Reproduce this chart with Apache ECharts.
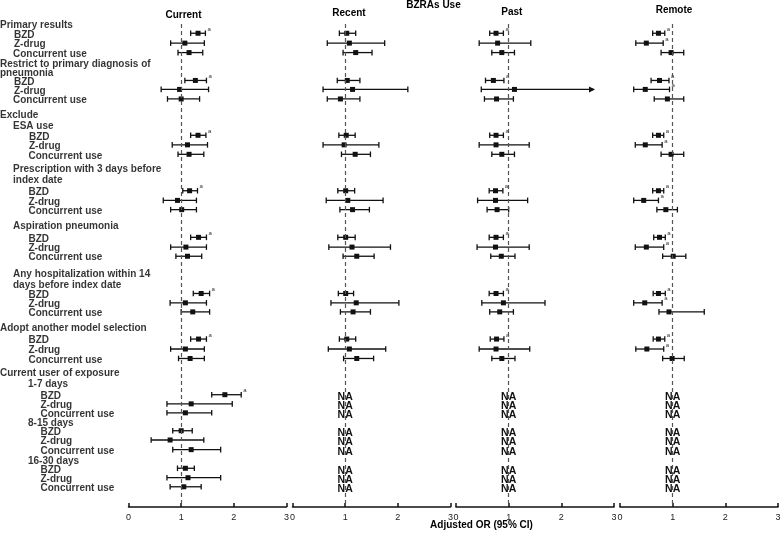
<!DOCTYPE html>
<html><head><meta charset="utf-8">
<script src="https://cdn.jsdelivr.net/npm/echarts@6/dist/echarts.min.js"></script>
<style>html,body{margin:0;padding:0;background:#fff}#c{width:781px;height:541px}</style>
</head><body><div id="c"></div>
<script>
// ---------- row labels (top to bottom) ----------
const rowLabels = [
  'Primary results','BZD','Z-drug','Concurrent use',
  'Restrict to primary diagnosis of','pneumonia','BZD','Z-drug','Concurrent use',
  'Exclude','ESA use','BZD','Z-drug','Concurrent use',
  'Prescription with 3 days before','index date','BZD','Z-drug','Concurrent use',
  'Aspiration pneumonia','BZD','Z-drug','Concurrent use',
  'Any hospitalization within 14','days before index date','BZD','Z-drug','Concurrent use',
  'Adopt another model selection','BZD','Z-drug','Concurrent use',
  'Current user of exposure','1-7 days','BZD','Z-drug','Concurrent use',
  '8-15 days','BZD','Z-drug','Concurrent use',
  '16-30 days','BZD','Z-drug','Concurrent use'
];
const dataRowNames = ['BZD','Z-drug','Concurrent use'];
const panels = ['Current','Recent','Past','Remote'];
const xTicks = [0,1,2,3];

// ---------- values: adjusted OR, lower / upper 95% CI (30 data rows) ----------
const currentOR = [1.32,1.07,1.15, 1.27,0.97,1.00, 1.32,1.12,1.15, 1.16,0.93,1.01, 1.33,1.09,1.12, 1.38,1.08,1.22, 1.33,1.08,1.17, 1.83,1.19,1.08, 1.00,0.79,1.19, 1.08,1.13,1.05];
const currentLo = [1.18,0.80,0.94, 1.07,0.62,0.74, 1.18,0.83,0.94, 1.03,0.66,0.80, 1.18,0.80,0.90, 1.23,0.79,1.00, 1.18,0.80,0.95, 1.58,0.73,0.73, 0.84,0.43,0.84, 0.93,0.73,0.79];
const currentHi = [1.46,1.44,1.41, 1.48,1.52,1.35, 1.47,1.50,1.43, 1.31,1.29,1.29, 1.48,1.48,1.39, 1.54,1.48,1.54, 1.48,1.44,1.44, 2.14,1.97,1.58, 1.21,1.43,1.75, 1.25,1.75,1.38];
const currentSig = [0,3,6,9,12,15,18,21];

const NAs = [null,null,null,null,null,null,null,null,null];
const recentOR = [1.03,1.08,1.20, 1.04,1.14,0.91, 1.02,0.98,1.19, 1.01,1.05,1.14, 1.01,1.13,1.22, 1.01,1.21,1.15, 1.03,1.08,1.22].concat(NAs);
const recentLo = [0.89,0.66,0.96, 0.85,0.58,0.66, 0.88,0.58,0.93, 0.86,0.64,0.90, 0.86,0.69,0.96, 0.87,0.73,0.91, 0.89,0.68,0.97].concat(NAs);
const recentHi = [1.20,1.75,1.51, 1.28,2.19,1.28, 1.19,1.64,1.48, 1.18,1.72,1.46, 1.19,1.86,1.55, 1.16,2.02,1.48, 1.20,1.77,1.54].concat(NAs);
const recentSig = [];

const pastOR = [0.76,0.79,0.87, 0.71,1.11,0.77, 0.76,0.76,0.87, 0.75,0.75,0.78, 0.76,0.75,0.86, 0.76,0.90,0.83, 0.77,0.76,0.87].concat(NAs);
const pastLo = [0.64,0.44,0.68, 0.56,0.48,0.54, 0.64,0.44,0.68, 0.63,0.41,0.59, 0.63,0.40,0.66, 0.63,0.49,0.64, 0.65,0.44,0.68].concat(NAs);
const pastHi = [0.90,1.42,1.11, 0.91,2.62,1.09, 0.90,1.39,1.11, 0.89,1.36,1.00, 0.90,1.39,1.12, 0.90,1.69,1.09, 0.91,1.40,1.12].concat(NAs);
const pastSig = [0,3,6,9,12,15,18];
const pastArrow = [4];

const remoteOR = [0.73,0.50,0.97, 0.75,0.48,0.90, 0.73,0.48,0.97, 0.73,0.45,0.87, 0.75,0.50,1.01, 0.73,0.47,0.93, 0.73,0.51,0.99].concat(NAs);
const remoteLo = [0.62,0.30,0.78, 0.59,0.26,0.65, 0.62,0.29,0.78, 0.62,0.26,0.70, 0.64,0.29,0.81, 0.63,0.26,0.74, 0.63,0.30,0.81].concat(NAs);
const remoteHi = [0.85,0.82,1.21, 0.93,0.94,1.21, 0.83,0.80,1.21, 0.83,0.73,1.09, 0.86,0.83,1.25, 0.86,0.80,1.60, 0.85,0.83,1.22].concat(NAs);
const remoteSig = [0,1,3,4,6,7,9,10,12,13,15,16,18,19];

// ---------- layout (row spacing in line units, label indents in px) ----------
const rowGap = [0,0.92,0.98,0.94,0.99,0.92,0.86,0.89,0.95,1.49,1.09,1.03,0.95,0.94,1.34,1.09,1.19,0.96,0.92,1.46,1.29,0.97,0.91,1.66,1.05,0.99,0.93,0.90,1.48,1.22,0.99,0.94,1.31,1.15,1.14,0.91,0.89,0.86,0.92,0.92,0.96,0.96,0.89,0.94,0.90];
const rowIndent = [0,14,14,13, 0,0,14,14,13, 0,13,29,29,28.5, 13,13,28.5,28.5,28.5, 13,28.5,28.5,28.5, 13,13,28.5,28.5,28.5, 0,28.5,28.5,28.5, 0,28,40.5,40.5,40.5, 28,40.5,40.5,40.5, 28,40.5,40.5,40.5];

const rowPos = [];
rowGap.reduce((acc, g, i) => { rowPos[i] = acc + g; return acc + g; }, 0);
const dataRowIdx = rowLabels.map((l, i) => dataRowNames.includes(l) ? i : -1).filter(i => i >= 0);

const panelData = [
  {or: currentOR, lo: currentLo, hi: currentHi, sig: currentSig, arrow: []},
  {or: recentOR, lo: recentLo, hi: recentHi, sig: recentSig, arrow: []},
  {or: pastOR, lo: pastLo, hi: pastHi, sig: pastSig, arrow: pastArrow},
  {or: remoteOR, lo: remoteLo, hi: remoteHi, sig: remoteSig, arrow: []}
];

const FONT = "'Liberation Sans', Arial, sans-serif";
const Y_MIN = 0, Y_MAX = 48;
const GRID_TOP = 24, GRID_H = 483;
const panelLeft = [128.5, 292.5, 456, 620];
const panelW = 158;

const grids = [{left: 0, top: GRID_TOP, width: 128, height: GRID_H, outerBoundsMode: 'none'}];
const xAxes = [{gridIndex: 0, type: 'value', min: 0, max: 1, show: false}];
const yAxes = [{gridIndex: 0, type: 'value', min: Y_MIN, max: Y_MAX, inverse: true, show: false}];
const series = [];

series.push({
  type: 'scatter', xAxisIndex: 0, yAxisIndex: 0, symbolSize: 0, silent: true,
  data: rowLabels.map((l, i) => ({
    value: [0, rowPos[i]], name: l,
    label: {offset: [rowIndent[i], 1.5]}
  })),
  label: {show: true, position: 'right', distance: 0, formatter: p => p.name,
    fontFamily: FONT, fontWeight: 'bold', fontSize: 10, color: '#000'}
});

function renderForest(params, api) {
  const lo = api.value(0), hi = api.value(1), or = api.value(2), y = api.value(3);
  const sig = api.value(4), arrow = api.value(5);
  const pL = api.coord([lo, y]), pH = api.coord([hi, y]), pO = api.coord([or, y]);
  const cap = 2.8;
  const st = {stroke: '#111', lineWidth: 1.3};
  const ch = [
    {type: 'line', shape: {x1: pL[0], y1: pL[1], x2: pH[0], y2: pH[1]}, style: st},
    {type: 'line', shape: {x1: pL[0], y1: pL[1] - cap, x2: pL[0], y2: pL[1] + cap}, style: st}
  ];
  if (arrow) {
    ch.push({type: 'polygon', shape: {points: [[pH[0] + 1, pH[1]], [pH[0] - 5, pH[1] - 3], [pH[0] - 5, pH[1] + 3]]}, style: {fill: '#111'}});
  } else {
    ch.push({type: 'line', shape: {x1: pH[0], y1: pH[1] - cap, x2: pH[0], y2: pH[1] + cap}, style: st});
  }
  ch.push({type: 'rect', shape: {x: pO[0] - 2.5, y: pO[1] - 2.5, width: 5, height: 5}, style: {fill: '#111'}});
  if (sig) {
    ch.push({type: 'text', x: pH[0] + 2, y: pH[1] - 4, style: {text: 'a', fontSize: 6, fontFamily: FONT, fill: '#333', align: 'left', verticalAlign: 'middle'}});
  }
  return {type: 'group', children: ch};
}

function renderNA(params, api) {
  const p = api.coord([api.value(0), api.value(1)]);
  return {type: 'text', x: p[0], y: p[1] + 2.5, style: {text: 'NA', fontFamily: FONT, fontWeight: 'bold', fontSize: 10.5, fill: '#111', align: 'center', verticalAlign: 'middle'}};
}

panels.forEach((name, p) => {
  const gi = p + 1;
  const d = panelData[p];
  grids.push({left: panelLeft[p], top: GRID_TOP, width: panelW, height: GRID_H, outerBoundsMode: 'none'});
  xAxes.push({
    gridIndex: gi, type: 'value', min: xTicks[0], max: xTicks[xTicks.length - 1], interval: 1,
    axisLine: {show: true, onZero: false, lineStyle: {color: '#111', width: 1.5}},
    axisTick: {show: true, inside: true, length: 4, lineStyle: {color: '#111', width: 1.5}},
    axisLabel: {fontSize: 9, color: '#222', margin: 6, fontFamily: FONT},
    splitLine: {show: false}
  });
  yAxes.push({gridIndex: gi, type: 'value', min: Y_MIN, max: Y_MAX, inverse: true, show: false});
  const items = [], naItems = [];
  dataRowIdx.forEach((ri, k) => {
    if (d.or[k] == null) naItems.push([1, rowPos[ri]]);
    else items.push([d.lo[k], d.hi[k], d.or[k], rowPos[ri], d.sig.includes(k) ? 1 : 0, d.arrow.includes(k) ? 1 : 0]);
  });
  series.push({
    type: 'custom', xAxisIndex: gi, yAxisIndex: gi, renderItem: renderForest, silent: true,
    encode: {x: [0, 1, 2], y: 3}, data: items,
    markLine: {silent: true, symbol: ['none', 'none'], label: {show: false},
      lineStyle: {type: [4, 3], color: '#555', width: 1.2}, data: [{xAxis: 1}]}
  });
  if (naItems.length) {
    series.push({
      type: 'custom', xAxisIndex: gi, yAxisIndex: gi, renderItem: renderNA, silent: true,
      encode: {x: 0, y: 1}, data: naItems
    });
  }
});

const titleStyle = (t, x, y) => ({type: 'text', x, y, style: {text: t, fontFamily: FONT, fontWeight: 'bold', fontSize: 10, fill: '#000', align: 'center', verticalAlign: 'middle'}});

const chart = echarts.init(document.getElementById('c'), null, {renderer: 'canvas'});
chart.setOption({
  animation: false,
  backgroundColor: '#fff',
  grid: grids, xAxis: xAxes, yAxis: yAxes, series,
  graphic: [
    titleStyle('BZRAs Use', 433.5, 5),
    titleStyle(panels[0], 183.5, 15),
    titleStyle(panels[1], 349, 13.7),
    titleStyle(panels[2], 511.8, 12),
    titleStyle(panels[3], 674, 10.5),
    titleStyle('Adjusted OR (95% CI)', 481.5, 525)
  ]
});
</script></body></html>
